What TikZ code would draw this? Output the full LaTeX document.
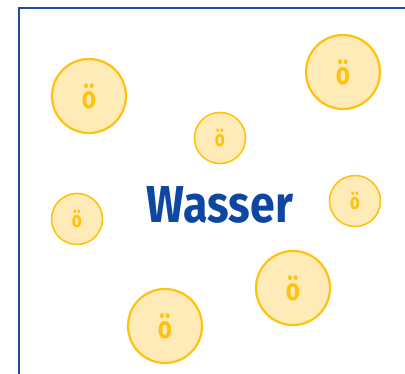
\documentclass[tikz,border=0pt]{standalone}
\usepackage{fontspec}
\setmainfont{Fira Sans}
\usepackage{graphicx}
\definecolor{frameblue}{HTML}{1A4FA0}
\definecolor{textblue}{HTML}{0D47A1}
\definecolor{amberfill}{HTML}{FFEBB8}
\definecolor{amberline}{HTML}{FFC20E}
\newcommand{\bigoe}{\scalebox{0.78}[1]{\fontsize{31}{31}\selectfont\bfseries ö}}
\newcommand{\smalloe}{\scalebox{0.78}[1]{\fontsize{22}{22}\selectfont\bfseries ö}}
\begin{document}
\begin{tikzpicture}[x=1pt,y=-1pt,
  bigoil/.style={circle,draw=amberline,line width=2.2pt,fill=amberfill,minimum size=74pt,inner sep=0pt,
    text=amberline},
  smalloil/.style={circle,draw=amberline,line width=1.6pt,fill=amberfill,minimum size=51pt,inner sep=0pt,
    text=amberline},
  framestyle/.style={draw=frameblue,line width=2.4pt}]
\useasboundingbox (0,0) rectangle (405,374);
\draw[framestyle] (19,380) -- (19,8) -- (410,8);
\node[bigoil] (o1) at (89,96) {\bigoe};
\node[bigoil] (o2) at (343,72) {\bigoe};
\node[smalloil] (o3) at (220,138) {\smalloe};
\node[smalloil] (o4) at (77,219) {\smalloe};
\node[smalloil] (o5) at (355,201) {\smalloe};
\node[bigoil] (o6) at (293,288) {\bigoe};
\node[bigoil] (o7) at (165,326) {\bigoe};
\node[text=textblue,inner sep=0pt] (w) at (220,205) {\resizebox{146pt}{36pt}{\bfseries Wasser}};
\end{tikzpicture}
\end{document}
